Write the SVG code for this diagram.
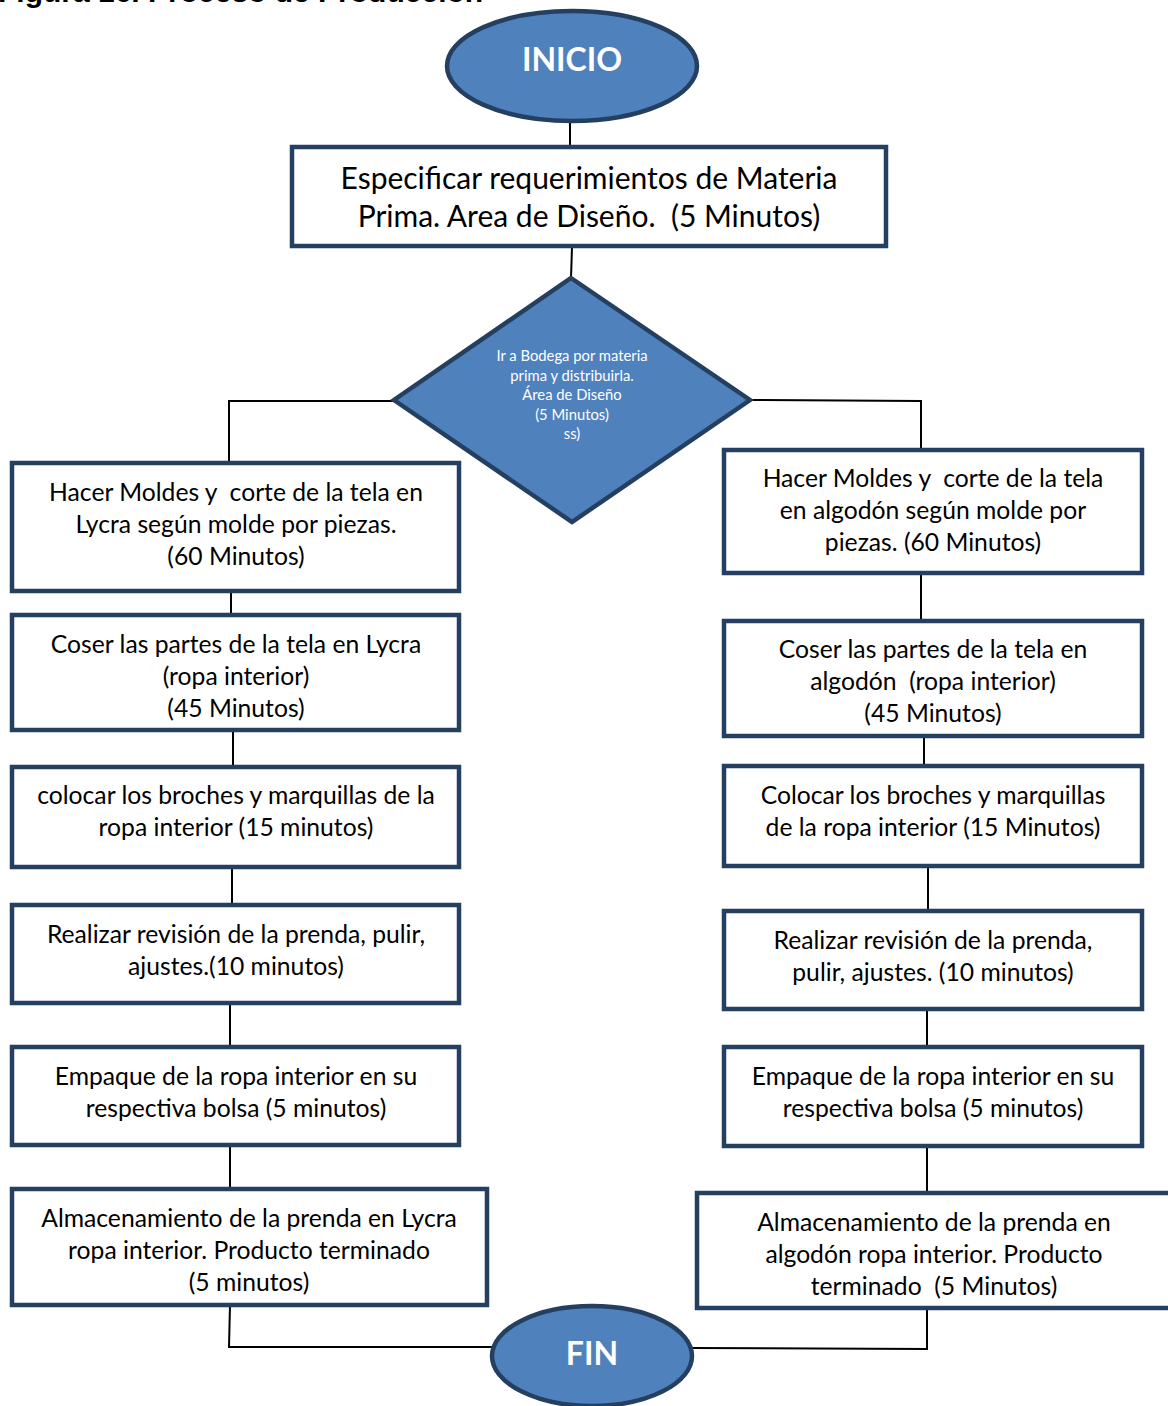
<svg xmlns="http://www.w3.org/2000/svg" width="1168" height="1406" viewBox="0 0 1168 1406">
<style>
.box{fill:#ffffff;stroke:#243f60;stroke-width:4.5}
.term{fill:#4f81bd;stroke:#243f60;stroke-width:4.5}
text{white-space:pre}
.t{font-family:Lato,"Liberation Sans",sans-serif;font-size:24.7px;fill:#000;text-anchor:middle}
.tb{font-family:Lato,"Liberation Sans",sans-serif;font-size:30px;fill:#000;text-anchor:middle}
.tw{font-family:Lato,"Liberation Sans",sans-serif;font-size:14.8px;fill:#fff;text-anchor:middle}
.tt{font-family:Lato,"Liberation Sans",sans-serif;font-size:32px;font-weight:bold;fill:#fff;text-anchor:middle}
.c{fill:none;stroke:#000;stroke-width:2}
</style>
<rect width="1168" height="1406" fill="#fff"/>
<text x="-2" y="2" font-family="Liberation Sans, Arial, sans-serif" font-size="30" font-weight="bold" fill="#000">Figura 16. Proceso de Producción</text>

<g id="connectors">
<line class="c" x1="570" y1="122" x2="570" y2="147"/>
<line class="c" x1="572" y1="247" x2="571" y2="278"/>
<polyline class="c" points="394,401 229,401 229,463"/>
<polyline class="c" points="750,400 921,401 921,463"/>
<line class="c" x1="231" y1="577" x2="231" y2="618"/>
<line class="c" x1="233" y1="723" x2="233" y2="765"/>
<line class="c" x1="232" y1="867" x2="232" y2="905"/>
<line class="c" x1="230" y1="1003" x2="230" y2="1045"/>
<line class="c" x1="230" y1="1145" x2="230" y2="1189"/>
<polyline class="c" points="230,1305 229,1347 492,1347"/>
<line class="c" x1="921" y1="573" x2="921" y2="621"/>
<line class="c" x1="924" y1="720" x2="924" y2="764"/>
<line class="c" x1="928" y1="866" x2="928" y2="910"/>
<line class="c" x1="927" y1="1009" x2="927" y2="1048"/>
<line class="c" x1="927" y1="1146" x2="927" y2="1192"/>
<polyline class="c" points="927,1308 927,1349 692,1348"/>
</g>

<g id="inicio">
<ellipse class="term" cx="572" cy="66" rx="125" ry="55"/>
<text class="tt" x="572" y="71">INICIO</text>
</g>

<g id="especificar">
<rect class="box" x="292" y="147" width="594" height="99"/>
<text class="tb" x="589" y="189">Especificar requerimientos de Materia</text>
<text class="tb" x="589" y="227">Prima. Area de Diseño.  (5 Minutos)</text>
</g>

<g id="bodega">
<polygon class="term" points="571,278 750,400 572,522 394,400"/>
<text class="tw" x="572" y="361">Ir a Bodega por materia</text>
<text class="tw" x="572" y="381">prima y distribuirla.</text>
<text class="tw" x="572" y="400">Área de Diseño</text>
<text class="tw" x="572" y="420">(5 Minutos)</text>
<text class="tw" x="572" y="439">ss)</text>
</g>

<g id="l1">
<rect class="box" x="12" y="463" width="447" height="128"/>
<text class="t" x="236" y="501">Hacer Moldes y  corte de la tela en</text>
<text class="t" x="236" y="533">Lycra según molde por piezas.</text>
<text class="t" x="236" y="565">(60 Minutos)</text>
</g>
<g id="l2">
<rect class="box" x="12" y="615" width="447" height="115"/>
<text class="t" x="236" y="653">Coser las partes de la tela en Lycra</text>
<text class="t" x="236" y="685">(ropa interior)</text>
<text class="t" x="236" y="717">(45 Minutos)</text>
</g>
<g id="l3">
<rect class="box" x="12" y="767" width="447" height="100"/>
<text class="t" x="236" y="804">colocar los broches y marquillas de la</text>
<text class="t" x="236" y="836">ropa interior (15 minutos)</text>
</g>
<g id="l4">
<rect class="box" x="12" y="905" width="447" height="98"/>
<text class="t" x="236" y="943">Realizar revisión de la prenda, pulir,</text>
<text class="t" x="236" y="975">ajustes.(10 minutos)</text>
</g>
<g id="l5">
<rect class="box" x="12" y="1047" width="447" height="98"/>
<text class="t" x="236" y="1085">Empaque de la ropa interior en su</text>
<text class="t" x="236" y="1117">respectiva bolsa (5 minutos)</text>
</g>
<g id="l6">
<rect class="box" x="12" y="1189" width="475" height="116"/>
<text class="t" x="249" y="1227">Almacenamiento de la prenda en Lycra</text>
<text class="t" x="249" y="1259">ropa interior. Producto terminado</text>
<text class="t" x="249" y="1291">(5 minutos)</text>
</g>

<g id="r1">
<rect class="box" x="724" y="450" width="418" height="123"/>
<text class="t" x="933" y="487">Hacer Moldes y  corte de la tela</text>
<text class="t" x="933" y="519">en algodón según molde por</text>
<text class="t" x="933" y="551">piezas. (60 Minutos)</text>
</g>
<g id="r2">
<rect class="box" x="724" y="621" width="418" height="115"/>
<text class="t" x="933" y="658">Coser las partes de la tela en</text>
<text class="t" x="933" y="690">algodón  (ropa interior)</text>
<text class="t" x="933" y="722">(45 Minutos)</text>
</g>
<g id="r3">
<rect class="box" x="724" y="766" width="418" height="100"/>
<text class="t" x="933" y="804">Colocar los broches y marquillas</text>
<text class="t" x="933" y="836">de la ropa interior (15 Minutos)</text>
</g>
<g id="r4">
<rect class="box" x="724" y="911" width="418" height="98"/>
<text class="t" x="933" y="949">Realizar revisión de la prenda,</text>
<text class="t" x="933" y="981">pulir, ajustes. (10 minutos)</text>
</g>
<g id="r5">
<rect class="box" x="724" y="1047" width="418" height="99"/>
<text class="t" x="933" y="1085">Empaque de la ropa interior en su</text>
<text class="t" x="933" y="1117">respectiva bolsa (5 minutos)</text>
</g>
<g id="r6">
<rect class="box" x="697" y="1193" width="476" height="115"/>
<text class="t" x="934" y="1231">Almacenamiento de la prenda en</text>
<text class="t" x="934" y="1263">algodón ropa interior. Producto</text>
<text class="t" x="934" y="1295">terminado  (5 Minutos)</text>
</g>

<g id="fin">
<ellipse class="term" cx="592" cy="1356" rx="100" ry="50"/>
<text class="tt" x="592" y="1365">FIN</text>
</g>
</svg>
